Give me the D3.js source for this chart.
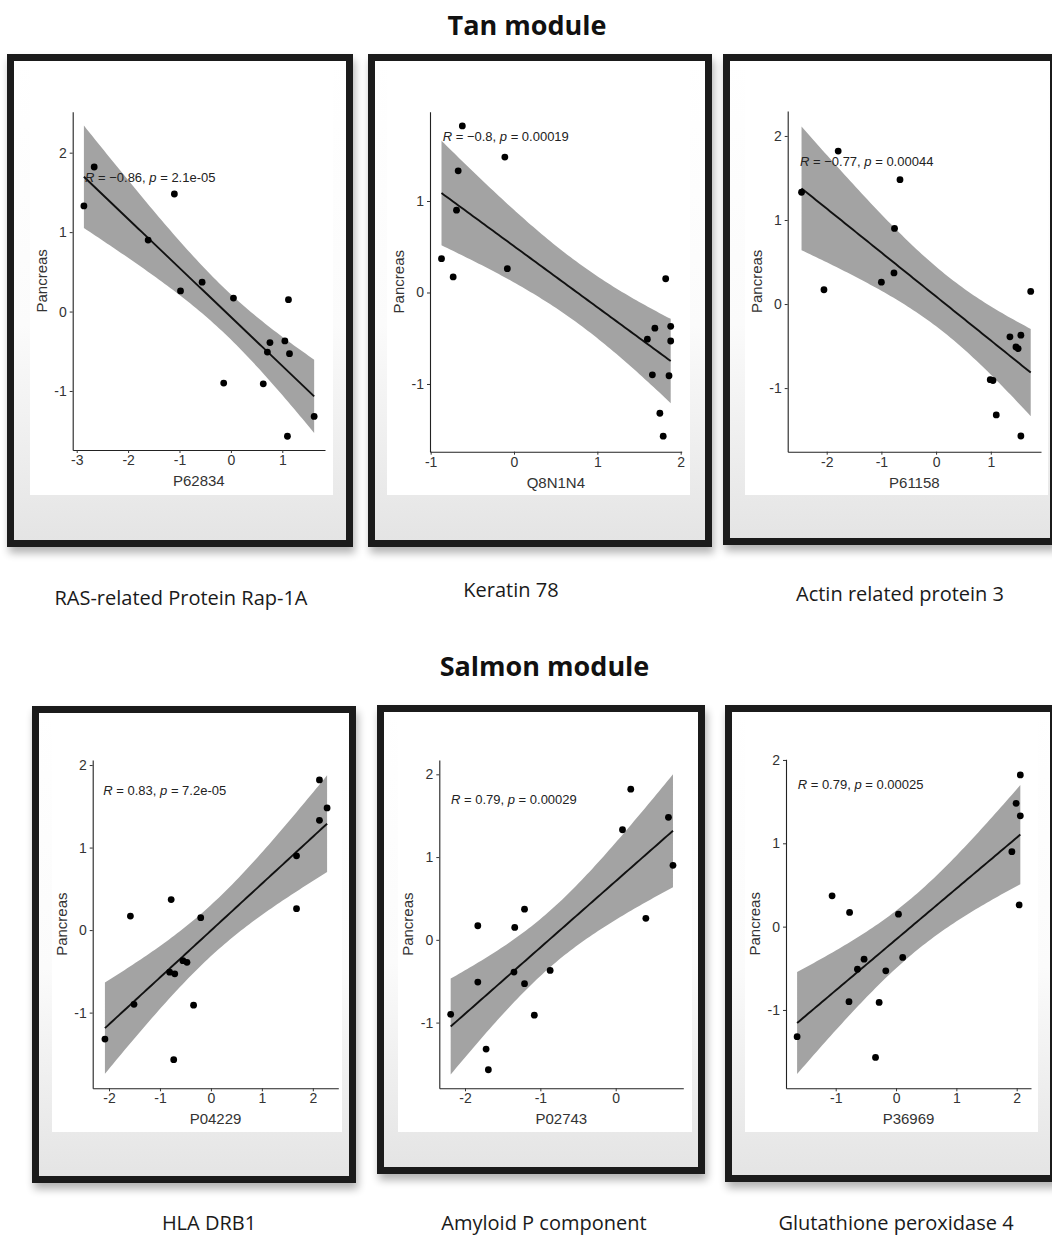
<!DOCTYPE html>
<html>
<head>
<meta charset="utf-8">
<script src="https://cdn.jsdelivr.net/npm/d3@7"></script>
<style>
  body { margin: 0; background: #fff; }
  svg { display: block; }
</style>
</head>
<body>
<svg id="chart" width="1052" height="1241"></svg>
<script>
// Pancreas values (same 16 samples in every panel)
const pancreas = [1.82, 1.48, 1.33, 0.90, 0.37, 0.26, 0.17, 0.15, -0.37, -0.39, -0.51, -0.53, -0.90, -0.91, -1.32, -1.57];

// protein values, in the same sample order as pancreas
const xP62834 = [-2.66, -1.10, -2.86, -1.61, -0.56, -0.98, 0.05, 1.12, 1.05, 0.76, 0.71, 1.14, -0.14, 0.63, 1.62, 1.10];
const xQ8N1N4 = [-0.62, -0.11, -0.67, -0.69, -0.87, -0.08, -0.73, 1.82, 1.88, 1.69, 1.60, 1.88, 1.66, 1.86, 1.75, 1.79];
const xP61158 = [-1.79, -0.66, -2.46, -0.76, -0.77, -1.00, -2.05, 1.73, 1.55, 1.35, 1.46, 1.50, 0.99, 1.04, 1.10, 1.55];
const xP04229 = [2.13, 2.28, 2.13, 1.68, -0.78, 1.68, -1.58, -0.20, -0.55, -0.47, -0.81, -0.71, -1.51, -0.34, -2.08, -0.73];
const xP02743 = [0.20, 0.70, 0.09, 0.76, -1.21, 0.40, -1.83, -1.34, -0.87, -1.35, -1.83, -1.21, -2.19, -1.08, -1.72, -1.69];
const xP36969 = [2.06, 1.99, 2.06, 1.92, -1.06, 2.04, -0.77, 0.04, 0.11, -0.53, -0.64, -0.17, -0.78, -0.28, -1.64, -0.34];

const proteinValues = [xP62834, xQ8N1N4, xP61158, xP04229, xP02743, xP36969];
const proteinIds = ["P62834", "Q8N1N4", "P61158", "P04229", "P02743", "P36969"];
const captions = ["RAS-related Protein Rap-1A", "Keratin 78", "Actin related protein 3",
                  "HLA DRB1", "Amyloid P component", "Glutathione peroxidase 4"];
const moduleTitles = ["Tan module", "Salmon module"];
const corrR = ["\u22120.86", "\u22120.8", "\u22120.77", "0.83", "0.79", "0.79"];
const corrP = ["2.1e-05", "0.00019", "0.00044", "7.2e-05", "0.00029", "0.00025"];
const xTicks = [[-3, -2, -1, 0, 1], [-1, 0, 1, 2], [-2, -1, 0, 1], [-2, -1, 0, 1, 2], [-2, -1, 0], [-1, 0, 1, 2]];
const yTicks = [[-1, 0, 1, 2], [-1, 0, 1], [-1, 0, 1, 2], [-1, 0, 1, 2], [-1, 0, 1, 2], [-1, 0, 1, 2]];

// layout of each framed picture (pixels)
const layout = [
  { frame: [7, 54, 353, 547], img: [30, 333, 495], axes: [72.7, 325, 111.7, 450], xd: [-3.078, 1.831], yd: [-1.743, 2.516], note: [85, 182], cap: [181, 605] },
  { frame: [368, 54, 712, 547], img: [387, 690, 495], axes: [430, 681.7, 111.7, 451.7], xd: [-1.008, 2.012], yd: [-1.74, 1.976], note: [442.7, 141], cap: [511, 597] },
  { frame: [723, 54, 1057, 545], img: [745, 1048, 495], axes: [787.7, 1041, 111, 451.7], xd: [-2.713, 1.918], yd: [-1.757, 2.297], note: [800, 165.5], cap: [900, 601] },
  { frame: [32, 706, 356, 1183], img: [52, 342, 1132], axes: [92.7, 338.3, 760, 1088.3], xd: [-2.32, 2.50], yd: [-1.917, 2.061], note: [103.3, 794.5], cap: [209, 1230] },
  { frame: [377, 705, 705, 1174], img: [398, 692, 1132], axes: [439.3, 683.3, 760, 1088.3], xd: [-2.341, 0.897], yd: [-1.794, 2.173], note: [451, 803.5], cap: [544, 1230] },
  { frame: [725, 705, 1057, 1182], img: [745, 1038, 1132], axes: [786, 1031, 759.3, 1088.3], xd: [-1.824, 2.237], yd: [-1.94, 2.008], note: [797.7, 788.5], cap: [896, 1230] }
];
const titlePos = [[527, 35], [544.5, 676]];

const svg = d3.select("#chart");
const defs = svg.append("defs");
defs.append("filter").attr("id", "blur")
  .attr("x", "-10%").attr("y", "-10%").attr("width", "120%").attr("height", "120%")
  .append("feGaussianBlur").attr("stdDeviation", 4);
const grad = defs.append("linearGradient").attr("id", "inner")
  .attr("x1", 0).attr("y1", 0).attr("x2", 0).attr("y2", 1);
grad.append("stop").attr("offset", "0%").attr("stop-color", "#ffffff");
grad.append("stop").attr("offset", "55%").attr("stop-color", "#fbfbfb");
grad.append("stop").attr("offset", "100%").attr("stop-color", "#e4e4e4");

// OLS fit with 95% confidence band
function fit(xs, ys) {
  const n = xs.length;
  const mx = d3.mean(xs), my = d3.mean(ys);
  let sxx = 0, sxy = 0;
  xs.forEach((x, i) => { sxx += (x - mx) ** 2; sxy += (x - mx) * (ys[i] - my); });
  const b = sxy / sxx, a = my - b * mx;
  let sse = 0;
  xs.forEach((x, i) => { sse += (ys[i] - a - b * x) ** 2; });
  const s = Math.sqrt(sse / (n - 2));
  const t = 2.1448; // t(0.975, 14)
  const [lo, hi] = d3.extent(xs);
  return d3.range(81).map(k => {
    const x = lo + (hi - lo) * k / 80;
    const yh = a + b * x;
    const se = s * Math.sqrt(1 / n + (x - mx) ** 2 / sxx);
    return { x, y: yh, lo: yh - t * se, hi: yh + t * se };
  });
}

const b = 7;
const sans = "'Liberation Sans', Arial, sans-serif";
layout.forEach((L, i) => {
  const [fx0, fy0, fx1, fy1] = L.frame;
  const g = svg.append("g");

  // drop shadow + frame
  g.append("rect")
    .attr("x", fx0 + 2).attr("y", fy0 + 6).attr("width", fx1 - fx0).attr("height", fy1 - fy0)
    .attr("fill", "#000").attr("opacity", 0.3).attr("filter", "url(#blur)");
  g.append("rect")
    .attr("x", fx0 + b / 2).attr("y", fy0 + b / 2)
    .attr("width", fx1 - fx0 - b).attr("height", fy1 - fy0 - b)
    .attr("fill", "url(#inner)").attr("stroke", "#1b1b1b").attr("stroke-width", b);
  g.append("rect")
    .attr("x", L.img[0]).attr("y", fy0 + b)
    .attr("width", L.img[1] - L.img[0]).attr("height", L.img[2] - fy0 - b)
    .attr("fill", "#fff");

  const [ax0, ax1, ay0, ay1] = L.axes;
  const x = d3.scaleLinear().domain(L.xd).range([ax0, ax1]);
  const y = d3.scaleLinear().domain(L.yd).range([ay1, ay0]);
  const xs = proteinValues[i];
  const pts = xs.map((v, k) => ({ x: v, y: pancreas[k] }));
  const curve = fit(xs, pancreas);

  g.append("path").datum(curve)
    .attr("fill", "#a3a3a3")
    .attr("d", d3.area().x(d => x(d.x)).y0(d => y(d.lo)).y1(d => y(d.hi)));
  g.append("path").datum(curve)
    .attr("fill", "none").attr("stroke", "#111").attr("stroke-width", 1.9)
    .attr("d", d3.line().x(d => x(d.x)).y(d => y(d.y)));

  g.selectAll(".dot").data(pts).enter().append("circle")
    .attr("cx", d => x(d.x)).attr("cy", d => y(d.y)).attr("r", 3.4)
    .attr("fill", "#000");

  const xAxis = g.append("g").attr("transform", `translate(0,${ay1})`)
    .call(d3.axisBottom(x).tickValues(xTicks[i]).tickFormat(d => String(d)).tickSize(3).tickPadding(2).tickSizeOuter(0));
  const yAxis = g.append("g").attr("transform", `translate(${ax0},0)`)
    .call(d3.axisLeft(y).tickValues(yTicks[i]).tickFormat(d => String(d)).tickSize(3).tickPadding(3).tickSizeOuter(0));
  [xAxis, yAxis].forEach(a => {
    a.attr("font-size", null).attr("font-family", null);
    a.select(".domain").attr("stroke", "#222").attr("stroke-width", 1.1);
    a.selectAll(".tick line").attr("stroke", "#333");
    a.selectAll(".tick text").attr("fill", "#333")
      .style("font-family", sans).style("font-size", "14px");
  });

  g.append("text")
    .attr("x", (ax0 + ax1) / 2).attr("y", ay1 + 36)
    .attr("text-anchor", "middle").attr("fill", "#333")
    .style("font-family", sans).style("font-size", "15px")
    .text(proteinIds[i]);
  g.append("text")
    .attr("transform", `translate(${ax0 - 26},${(ay0 + ay1) / 2}) rotate(-90)`)
    .attr("text-anchor", "middle").attr("fill", "#333")
    .style("font-family", sans).style("font-size", "15px")
    .text("Pancreas");

  const note = g.append("text")
    .attr("x", L.note[0]).attr("y", L.note[1]).attr("fill", "#222")
    .style("font-family", sans).style("font-size", "13px");
  note.append("tspan").style("font-style", "italic").text("R");
  note.append("tspan").text(` = ${corrR[i]}, `);
  note.append("tspan").style("font-style", "italic").text("p");
  note.append("tspan").text(` = ${corrP[i]}`);

  svg.append("text")
    .attr("x", L.cap[0]).attr("y", L.cap[1]).attr("text-anchor", "middle").attr("fill", "#1a1a1a")
    .style("font-family", "'Open Sans', sans-serif").style("font-size", "20px")
    .text(captions[i]);
});

moduleTitles.forEach((t, i) => {
  svg.append("text")
    .attr("x", titlePos[i][0]).attr("y", titlePos[i][1]).attr("text-anchor", "middle").attr("fill", "#111")
    .style("font-family", "'Open Sans', sans-serif").style("font-size", "27px").style("font-weight", "bold")
    .text(t);
});
</script>
</body>
</html>
